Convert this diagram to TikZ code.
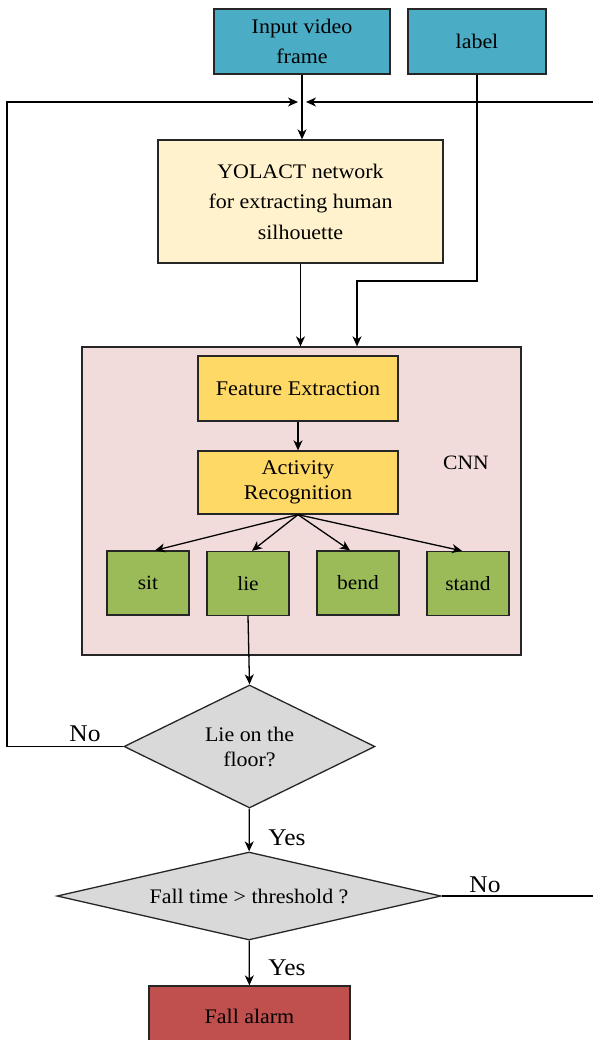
\documentclass[tikz,border=0pt]{standalone}
\usepackage{fontspec}
\setmainfont{Liberation Serif}[FakeStretch=1.06]
\usetikzlibrary{shapes.geometric,arrows.meta}

\definecolor{inblue}{HTML}{4BACC6}
\definecolor{yolo}{HTML}{FFF2CC}
\definecolor{cnnbg}{HTML}{F2DCDB}
\definecolor{gold}{HTML}{FFD966}
\definecolor{leaf}{HTML}{9BBB59}
\definecolor{decide}{HTML}{D9D9D9}
\definecolor{alarm}{HTML}{C0504D}

\tikzset{
  blk/.style={draw=black!85, line width=1.3pt, align=center, inner sep=0pt,
    font=\fontsize{20.7}{30.5}\selectfont},
  inner/.style={blk, fill=gold, minimum width=200pt,
    font=\fontsize{20.9}{24.5}\selectfont},
  cls/.style={blk, fill=leaf, minimum width=82pt, minimum height=64pt,
    font=\fontsize{20.2}{24}\selectfont},
  dec/.style={blk, diamond, fill=decide, font=\fontsize{20.7}{25}\selectfont},
  ans/.style={font=\fontsize{24}{26}\selectfont, inner sep=0pt},
  arr/.style={line width=1.3pt, -{Stealth[length=10pt,width=9pt,inset=3pt]}}
}

\begin{document}
\begin{tikzpicture}[x=1pt, y=-1pt]
  \useasboundingbox (0,0) rectangle (593,1040);
  % inputs
  \node[blk, fill=inblue, minimum width=176pt, minimum height=65pt] (in) at (302,41.5) {Input video\\frame};
  \node[blk, fill=inblue, minimum width=138pt, minimum height=65pt] (lab) at (477,41.5) {label};
  \node[blk, fill=yolo, minimum width=285pt, minimum height=123pt] (yol) at (300.5,201.5)
    {YOLACT network\\for extracting human\\silhouette};
  % CNN block
  \node[blk, fill=cnnbg, minimum width=439pt, minimum height=308pt] (cnn) at (301.5,501) {};
  \node[ans, font=\fontsize{20.4}{24}\selectfont] (cnnt) at (466,463) {CNN};
  \node[inner, minimum height=65pt] (fe) at (298,388.5) {Feature Extraction};
  \node[inner, minimum height=63pt] (ar) at (298,482.5) {Activity\\Recognition};
  \node[cls] (sit) at (148,583) {sit};
  \node[cls] (lie) at (248,583.5) {lie};
  \node[cls] (bend) at (358,583) {bend};
  \node[cls] (stand) at (468,583.5) {stand};
  % decisions
  \node[dec, aspect=2.04, minimum width=251pt, minimum height=123pt] (d1) at (249.5,746.5) {Lie on the\\floor?};
  \node[dec, aspect=4.36, minimum width=384pt, minimum height=88pt] (d2) at (249,896) {Fall time > threshold ?};
  \node[blk, fill=alarm, minimum width=201pt, minimum height=60pt] (fa) at (249.5,1016) {Fall alarm};
  \node[ans] (no1) at (85,734) {No};
  \node[ans] (yes1) at (287,838) {Yes};
  \node[ans] (no2) at (485,885) {No};
  \node[ans] (yes2) at (287,968) {Yes};
  \coordinate (jl) at (298,102);
  \coordinate (jr) at (306,102);
  \coordinate (lk) at (357,281);
  \coordinate (lx) at (7,746.5);
  \coordinate (rx) at (594,896);

  % connectors
  \draw[arr] (in.south) -- (in.south |- yol.north);
  \draw[arr] (d1.west) -- (lx) |- (jl);
  \draw[arr] (d2.east) -- (rx) |- (jr);
  \draw[arr] (yol.south) -- (yol.south |- cnn.north);
  \draw[arr] (lab.south) |- (lk) -- (lk |- cnn.north);
  \draw[arr] (fe) -- (ar);
  \draw[arr] (ar.south) -- ([xshift=7pt]sit.north);
  \draw[arr] (ar.south) -- ([xshift=4pt]lie.north);
  \draw[arr] (ar.south) -- ([xshift=-8pt]bend.north);
  \draw[arr] (ar.south) -- ([xshift=-6pt]stand.north);
  \draw[arr] (lie.south) -- (d1.north);
  \draw[arr] (d1) -- (d2);
  \draw[arr] (d2) -- (fa);
\end{tikzpicture}
\end{document}
